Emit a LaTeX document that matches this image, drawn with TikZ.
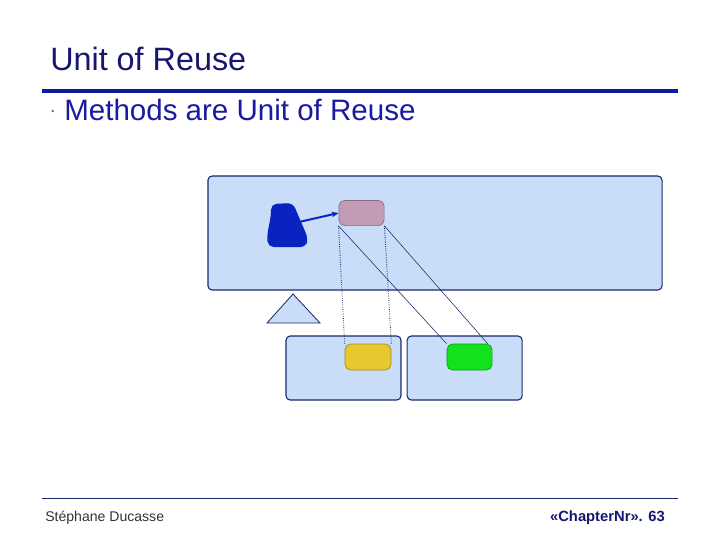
\documentclass[tikz,border=0pt]{standalone}
\usepackage{fontspec}
\setmainfont{Liberation Sans}
\usepackage{xcolor}
\definecolor{cTitle} {HTML}{16166E}
\definecolor{cText}  {HTML}{1A1AA0}
\definecolor{cRule}  {HTML}{0A1E9B}
\definecolor{cEdge}  {HTML}{1C2A6E}
\definecolor{cClass} {HTML}{C9DDF9}
\definecolor{cBlob}  {HTML}{0A22C0}
\definecolor{cMauve} {HTML}{C49BB6}
\definecolor{cYellow}{HTML}{E8C830}
\definecolor{cGreen} {HTML}{12E21E}
\definecolor{cFoot}  {HTML}{333333}
\usepackage{tikz}
\usetikzlibrary{arrows.meta, positioning}
\tikzset{
  cls/.style   = {rectangle, draw=cEdge, line width=0.8pt, rounded corners=3pt,
                  fill=cClass, inner sep=0pt},
  meth/.style  = {rectangle, draw=#1!70!black, line width=0.5pt, rounded corners=4pt,
                  fill=#1, inner sep=0pt, minimum width=1.13cm, minimum height=0.63cm},
  dotl/.style  = {densely dotted, line width=0.6pt, cEdge},
  thinl/.style = {line width=0.4pt, cEdge},
  arr/.style   = {-{Stealth[length=5pt, width=4pt]}, line width=1.4pt, cBlob},
}

\begin{document}
\begin{tikzpicture}[x=0.025cm, y=-0.025cm]
  \useasboundingbox (0,0) rectangle (720,540);

  %% --- Header ---
  \node[anchor=base west, font=\fontsize{23}{26}\selectfont, text=cTitle,
        inner sep=0pt] (title) at (50,70) {Unit of Reuse};
  \draw[cRule, line width=2.2pt] (42,91) -- (678,91);
  \fill[cEdge!70] (52.7,111) circle (1.4);
  \node[anchor=base west, font=\fontsize{21}{24}\selectfont, text=cText,
        inner sep=0pt] (point) at (64,120) {Methods are Unit of Reuse};

  %% --- Superclass with its method ---
  \node[cls, minimum width=11.35cm, minimum height=2.85cm] (base) at (435,233) {};
  \fill[cBlob, rounded corners=4pt]
        (271,204) -- (293,203) -- (301,222) -- (308,238) -- (306,247)
        -- (268,247) -- (267,236) -- (271,215) -- cycle;
  \coordinate (blob) at (299,222);
  \node[meth=cMauve] (method) at (361.5,213) {};

  %% --- Inheritance triangle ---
  \draw[cEdge, fill=cClass, line width=0.6pt]
        (293,294) -- (320,323) -- (267,323) -- cycle;

  %% --- Subclasses ---
  \node[cls, minimum width=2.875cm, minimum height=1.6cm] (subA) at (343.5,368) {};
  \node[cls, minimum width=2.875cm, minimum height=1.6cm,
        right=0.125cm of subA] (subB) {};
  \node[meth=cYellow, minimum width=1.15cm, minimum height=0.65cm] (methA) at (368,357) {};
  \node[meth=cGreen, minimum height=0.65cm] (methB) at (469.5,357) {};

  %% --- Arrows ---
  \draw[arr] (blob) -- (method.west);
  \draw[dotl] (method.south west) -- (methA.north west);
  \draw[dotl] (method.south east) -- (methA.north east);
  \draw[thinl] (method.south west) -- (methB.north west);
  \draw[thinl] (method.south east) -- ([xshift=-0.12cm]methB.north east);

  %% --- Footer ---
  \draw[cEdge, line width=0.6pt] (42,498) -- (678,498);
  \node[anchor=base west, font=\fontsize{10}{12}\selectfont, text=cFoot,
        inner sep=0pt] (author) at (45,521) {Stéphane Ducasse};
  \node[anchor=base east, font=\fontsize{10.5}{12}\selectfont\bfseries, text=cTitle,
        inner sep=0pt] (page) at (665,521) {«ChapterNr». 63};

\end{tikzpicture}
\end{document}
